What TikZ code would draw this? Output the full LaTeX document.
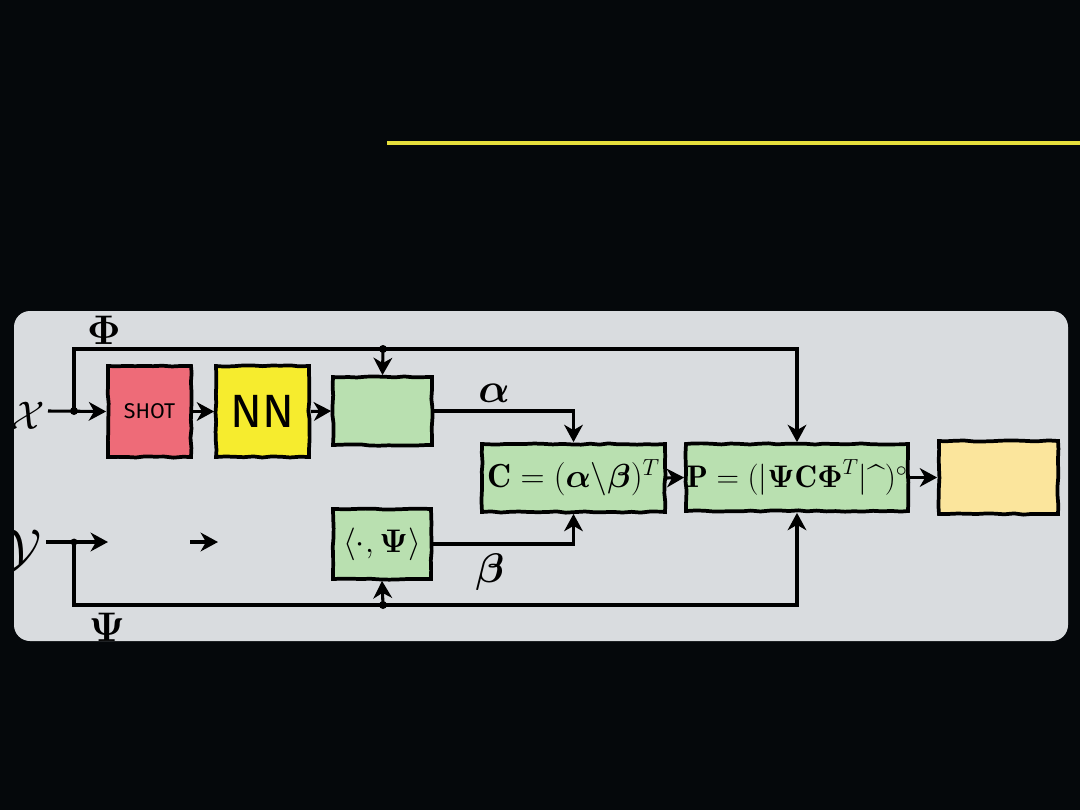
\RequirePackage{fix-cm}
\documentclass[tikz,border=0pt]{standalone}
\usepackage{amsmath,amssymb}
\usepackage{fontspec}
\newfontfamily\handfont{Fira Sans}
\usetikzlibrary{arrows.meta,decorations.pathmorphing}
\definecolor{bgk}{HTML}{05080B}
\definecolor{panelc}{HTML}{D9DCDF}
\definecolor{yline}{HTML}{E6DE3C}
\definecolor{shotc}{HTML}{EE6B78}
\definecolor{nnc}{HTML}{F6EC2E}
\definecolor{greenc}{HTML}{B9E0B0}
\definecolor{outc}{HTML}{FBE59C}
\begin{document}
\begin{tikzpicture}[x=0.75pt,y=-0.75pt,
  box/.style={draw=black, line width=2.8pt, rectangle, inner sep=0pt,
    decorate, decoration={random steps, segment length=7pt, amplitude=0.5pt}},
  conn/.style={line width=2.3pt, line join=miter},
  arr/.style={conn, -{Stealth[length=13pt,width=14pt,inset=4pt]}},
  mathtxt/.style={font=\fontsize{25}{30}\selectfont},
  lbl/.style={font=\fontsize{31}{36}\selectfont, inner sep=0pt}]
\fill[bgk] (0,0) rectangle (1080,810);
\useasboundingbox (0,0) rectangle (1080,810);
\draw[yline, line width=3pt] (387,143) -- (1080,143);
\fill[panelc, rounded corners=12pt] (14,311) rectangle (1068,641);

% boxes
\node[box, fill=shotc, minimum width=62.25pt, minimum height=68.25pt] (shot) at (149.5,411.5) {\handfont\fontsize{16}{18}\selectfont SHOT};
\node[box, fill=nnc, minimum width=69.75pt, minimum height=68.25pt] (nn) at (262.5,411.5) {\handfont\fontsize{35}{38}\selectfont NN};
\node[box, fill=greenc, minimum width=74.25pt, minimum height=51pt] (g1) at (382.5,411) {};
\node[box, fill=greenc, minimum width=73.5pt, minimum height=52.5pt, font=\fontsize{24.5}{28}\selectfont] (psi) at (382,544) {$\langle\cdot,\boldsymbol{\Psi}\rangle$};
\node[box, fill=greenc, minimum width=137.25pt, minimum height=51pt, mathtxt] (cbox) at (573.5,478) {$\mathbf{C}=(\boldsymbol{\alpha}\backslash\boldsymbol{\beta})^T$};
\node[box, fill=greenc, minimum width=166.5pt, minimum height=50.25pt, font=\fontsize{23.4}{28}\selectfont] (pbox) at (797,477.5) {$\mathbf{P}=(|\boldsymbol{\Psi}\mathbf{C}\boldsymbol{\Phi}^T|\mbox{\^{}})^\circ$};
\node[box, fill=outc, minimum width=89.25pt, minimum height=54.75pt] (ybox) at (998.5,477.5) {};

% input labels clipped by panel
\begin{scope}
\clip[rounded corners=12pt] (14,311) rectangle (1068,641);
\node[font=\fontsize{30}{34}\selectfont, inner sep=0pt] (xl) at (28,416) {$\mathcal{X}$};
\node[font=\fontsize{40}{44}\selectfont, inner sep=0pt] (yl) at (22,551) {$\mathcal{Y}$};
\end{scope}

% coordinates
\coordinate (xin) at (48,411);
\coordinate (xd) at (74,411);
\coordinate (tl) at (74,349);
\coordinate (phidot) at (383,349);
\coordinate (yin) at (46,542);
\coordinate (yd) at (74,542);
\coordinate (yend) at (108,542);
\coordinate (ya) at (190,542);
\coordinate (yb) at (218,542);
\coordinate (bl) at (74,605);
\coordinate (psidot) at (383,605);

% connectors
\draw[arr] (xin) -- (shot.west);
\draw[arr] (xd) -- (tl) -| (pbox.north);
\draw[arr] (phidot) -- (g1.north);
\draw[arr] (shot.east) -- (nn.west);
\draw[arr] (nn.east) -- (g1.west);
\draw[arr] (g1.east) -| (cbox.north);
\draw[arr] (psi.east) -| (cbox.south);
\draw[arr] (cbox.east) -- (pbox.west);
\draw[arr] (pbox.east) -- (ybox.west);
\draw[arr] (yin) -- (yend);
\draw[arr] (ya) -- (yb);
\draw[arr] (yd) -- (bl) -| (pbox.south);
\draw[arr] (psidot) -- (psi.south);
\fill (xd) circle (3pt);
\fill (yd) circle (2.6pt);
\fill (phidot) circle (3pt);
\fill (psidot) circle (3pt);

% labels
\node[lbl] (phil) at (104,330) {$\boldsymbol{\Phi}$};
\node[lbl] (psil) at (107,627) {$\boldsymbol{\Psi}$};
\node[lbl] (al) at (494,393) {$\boldsymbol{\alpha}$};
\node[lbl] (bl2) at (490,572) {$\boldsymbol{\beta}$};
\end{tikzpicture}
\end{document}
